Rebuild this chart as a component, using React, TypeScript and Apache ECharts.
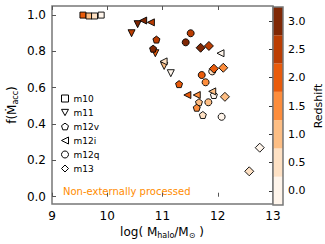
import React, { useEffect, useRef } from "react";
import * as echarts from "echarts";

// Redshift levels of the colour bar and their colours (discrete Oranges)
const zLevels = [0, 0.5, 1.0, 1.5, 2.0, 2.5, 3.0];
const bandColors = ["#fff5eb", "#fee1c4", "#fdbe84", "#fd8d3c", "#e95b0b", "#bb3d02", "#7f2704"];
const yTicks = [0, 0.2, 0.4, 0.6, 0.8, 1.0];

// Each series: log halo mass, accretion fraction, redshift
const m10 = { x: [9.56, 9.67, 9.77, 9.89], y: [1.0, 0.995, 0.995, 1.0], z: [2.0, 1.0, 0.5, 0] };
const m11 = { x: [11.15, 11.03, 10.87, 10.44, 10.55], y: [0.68, 0.72, 0.79, 0.9, 0.95], z: [0, 1.0, 2.0, 2.5, 3.0] };
const m12v = { x: [11.93, 11.73, 11.66, 11.62, 11.3, 10.89, 10.83], y: [0.56, 0.45, 0.52, 0.49, 0.62, 0.865, 0.815], z: [0, 0.5, 1.0, 1.5, 2.0, 2.5, 3.0] };
const m12i = { x: [12.05, 11.02, 11.9, 11.62, 11.45, 10.79, 10.65], y: [0.79, 0.745, 0.58, 0.56, 0.56, 0.96, 0.97], z: [0, 0.5, 1.0, 1.5, 2.0, 2.5, 3.0] };
const m12q = { x: [12.07, 11.9, 11.83, 11.78, 11.71, 11.51, 11.42], y: [0.44, 0.69, 0.52, 0.63, 0.67, 0.9, 0.85], z: [0, 0.5, 1.0, 1.5, 2.0, 2.5, 3.0] };
const m13 = { x: [12.76, 12.57, 12.13, 12.1, 11.93, 11.84, 11.69], y: [0.27, 0.14, 0.55, 0.71, 0.705, 0.83, 0.82], z: [0, 0.5, 1.0, 1.5, 2.0, 2.5, 3.0] };

const seriesDefs = [
  { name: "m10", d: m10, symbol: "rect", size: 6 },
  { name: "m11", d: m11, symbol: "path://M-5,-4L5,-4L0,5Z", size: 7 },
  { name: "m12v", d: m12v, symbol: "path://M0,-10L9.5,-3.1L5.9,8.1L-5.9,8.1L-9.5,-3.1Z", size: 7 },
  { name: "m12i", d: m12i, symbol: "path://M-5,0L5,-5L5,5Z", size: 7 },
  { name: "m12q", d: m12q, symbol: "circle", size: 7 },
  { name: "m13", d: m13, symbol: "diamond", size: 9 },
];

const FONT = "DejaVu Sans";

export default function App() {
  const ref = useRef<HTMLDivElement>(null);
  useEffect(() => {
    if (!ref.current) return;
    const chart = echarts.init(ref.current, null, { renderer: "svg" });
    const scatter = seriesDefs.map((s) => ({
      type: "scatter",
      name: s.name,
      xAxisIndex: 0,
      yAxisIndex: 0,
      symbol: s.symbol,
      symbolSize: s.size,
      itemStyle: { borderColor: "#000", borderWidth: 0.9, opacity: 1 },
      data: s.d.x.map((x, i) => [x, s.d.y[i], s.d.z[i]]),
    }));
    chart.setOption({
      animation: false,
      textStyle: { fontFamily: FONT },
      grid: [
        { left: 52, top: 6, width: 221, height: 198, show: true, borderColor: "#777", borderWidth: 1.5, backgroundColor: "transparent" },
        { left: 273, top: 7, width: 10, height: 198, show: true, borderColor: "#777", borderWidth: 1.5, backgroundColor: "transparent", z: 5 },
      ],
      xAxis: [
        {
          gridIndex: 0, type: "value", min: 9, max: 13, interval: 1,
          axisLine: { show: false }, splitLine: { show: false },
          axisTick: { inside: true, length: 4, lineStyle: { color: "#555" } },
          axisLabel: { fontSize: 12, color: "#000", margin: 6, fontFamily: FONT },
        },
        {
          gridIndex: 0, type: "value", position: "top", min: 9, max: 13, interval: 1,
          axisLine: { show: false }, splitLine: { show: false },
          axisTick: { inside: true, length: 4, lineStyle: { color: "#555" } },
          axisLabel: { show: false },
        },
        { gridIndex: 1, type: "value", min: 0, max: 1, show: false },
      ],
      yAxis: [
        {
          gridIndex: 0, type: "value", min: -0.04, max: 1.05,
          axisLine: { show: false }, splitLine: { show: false },
          axisTick: { inside: true, length: 4, lineStyle: { color: "#555" }, customValues: yTicks },
          axisLabel: { fontSize: 12, color: "#000", margin: 6, fontFamily: FONT, customValues: yTicks, formatter: (v: number) => v.toFixed(1) },
        },
        {
          gridIndex: 1, type: "value", position: "right", min: -0.25, max: 3.25,
          axisLine: { show: false }, splitLine: { show: false },
          axisTick: { inside: true, length: 4, lineStyle: { color: "#333" }, customValues: zLevels },
          axisLabel: { fontSize: 11, color: "#000", margin: 5, fontFamily: FONT, customValues: zLevels, formatter: (v: number) => v.toFixed(1) },
          name: "Redshift", nameLocation: "middle", nameGap: 30, nameRotate: 90,
          nameTextStyle: { fontSize: 11, color: "#000", fontFamily: FONT },
        },
      ],
      visualMap: {
        type: "piecewise", show: false, dimension: 2, seriesIndex: [0, 1, 2, 3, 4, 5],
        pieces: zLevels.map((z, i) => ({ gte: z - 0.25, lt: z + 0.25, color: bandColors[i] })),
      },
      legend: {
        orient: "vertical", left: 61, top: 94, padding: 0,
        itemWidth: 7, itemHeight: 7, itemGap: 5,
        textStyle: { fontSize: 9, color: "#000", fontFamily: FONT },
        itemStyle: { color: "#fff", borderColor: "#000", borderWidth: 1 },
        data: seriesDefs.map((s) => ({ name: s.name, icon: s.symbol })),
      },
      graphic: [
        {
          type: "text", left: 63, top: 186,
          style: { text: "Non-externally processed", fill: "#ff8c00", fontSize: 10, fontFamily: FONT },
        },
        {
          type: "text", x: 162, y: 232,
          style: {
            text: "{a|log( M}{s|halo}{a|/M}{s|⊙}{a| )}",
            align: "center", verticalAlign: "middle", fontFamily: FONT,
            rich: {
              a: { fontSize: 12, fill: "#000", fontFamily: FONT, lineHeight: 14 },
              s: { fontSize: 8, fill: "#000", fontFamily: FONT, lineHeight: 10, padding: [6, 0, 0, 0] },
            },
          },
        },
        {
          type: "text", x: 12, y: 105, rotation: Math.PI / 2,
          style: {
            text: "{a|f(Ṁ}{s|acc}{a|)}",
            align: "center", verticalAlign: "middle", fontFamily: FONT,
            rich: {
              a: { fontSize: 12, fill: "#000", fontFamily: FONT, lineHeight: 14 },
              s: { fontSize: 8, fill: "#000", fontFamily: FONT, lineHeight: 10, padding: [6, 0, 0, 0] },
            },
          },
        },
      ],
      series: [
        ...scatter,
        {
          type: "custom",
          xAxisIndex: 2,
          yAxisIndex: 1,
          silent: true,
          data: zLevels.map((z, i) => [z - 0.25, z + 0.25, i]),
          renderItem: (params: any, api: any) => {
            const p0 = api.coord([0, api.value(1)]);
            const p1 = api.coord([1, api.value(0)]);
            return {
              type: "rect",
              shape: { x: p0[0], y: p0[1], width: p1[0] - p0[0], height: p1[1] - p0[1] },
              style: { fill: bandColors[api.value(2)] },
            };
          },
        },
      ],
    });
    return () => chart.dispose();
  }, []);
  return <div ref={ref} style={{ width: 325, height: 244, position: "absolute", left: 0, top: 0 }} />;
}
